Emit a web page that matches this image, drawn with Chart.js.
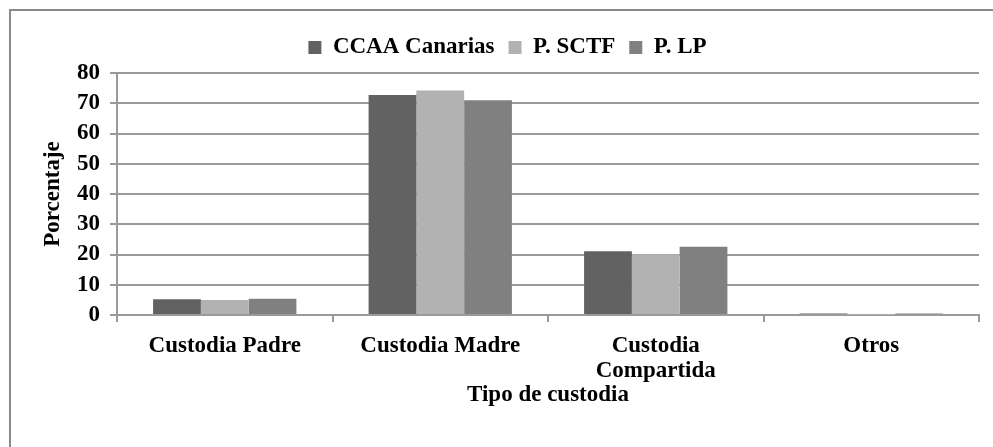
<!DOCTYPE html>
<html>
<head>
<meta charset="utf-8">
<script src="https://cdn.jsdelivr.net/npm/chart.js@4/dist/chart.umd.min.js"></script>
<style>
  html, body { margin: 0; padding: 0; background: #fff; }
  .wrap { position: relative; width: 993px; height: 447px; overflow: hidden; }
  .frame { position: absolute; left: 9px; top: 9px; width: 1100px; height: 1000px;
           border-left: 2px solid #8a8a8a; border-top: 2px solid #8a8a8a; }
  canvas { position: absolute; left: 0; top: 0; }
</style>
</head>
<body>
<div class="wrap">
  <div class="frame"></div>
  <canvas id="myChart" width="993" height="447"></canvas>
</div>
<script>
const categories = ["Custodia Padre", "Custodia Madre", ["Custodia", "Compartida"], "Otros"];
const seriesNames = ["CCAA Canarias", "P. SCTF", "P. LP"];
const canarias = [5.2, 72.7, 21.1, 0.5];
const sctf = [5.0, 74.2, 20.1, 0.1];
const lp = [5.4, 71.0, 22.6, 0.5];
const colors = ["#626262", "#b2b2b2", "#808080"];
const yTicks = [0, 10, 20, 30, 40, 50, 60, 70, 80];

const font = { family: "'Liberation Serif', 'Times New Roman', serif", size: 23, weight: "bold", lineHeight: 1.1 };
const gridColor = "#9a9a9a";

// extra room under the legend so the plot starts where it does in the original
const legendGap = {
  id: "legendGap",
  beforeInit(chart) {
    const fit = chart.legend.fit;
    chart.legend.fit = function () {
      fit.bind(chart.legend)();
      this.height += 4;
    };
  }
};

const ctx = document.getElementById("myChart").getContext("2d");
new Chart(ctx, {
  type: "bar",
  data: {
    labels: categories,
    datasets: [canarias, sctf, lp].map((vals, i) => ({
      label: seriesNames[i],
      data: vals,
      backgroundColor: colors[i],
      borderWidth: 0,
      barPercentage: 1,
      categoryPercentage: 0.665
    }))
  },
  options: {
    responsive: false,
    animation: false,
    layout: { padding: { left: 36, right: 14, top: 22, bottom: 30 } },
    plugins: {
      legend: {
        position: "top",
        labels: { font: font, color: "#000", boxWidth: 13, boxHeight: 13, padding: 14 }
      },
      tooltip: { enabled: false }
    },
    scales: {
      x: {
        grid: { offset: true, drawOnChartArea: false, color: gridColor, lineWidth: 2, tickLength: 7 },
        border: { color: gridColor, width: 2 },
        ticks: { font: font, color: "#000", padding: 11, maxRotation: 0 },
        title: { display: true, text: "Tipo de custodia", font: font, color: "#000", padding: { top: 4, bottom: 9 } },
        afterFit: (s) => { s.height = 102; }
      },
      y: {
        min: 0,
        max: 80,
        afterBuildTicks: (s) => { s.ticks = yTicks.map(v => ({ value: v })); },
        grid: { color: gridColor, lineWidth: 2, tickLength: 7 },
        border: { color: gridColor, width: 2 },
        ticks: { font: font, color: "#000", padding: 10 },
        title: { display: true, text: "Porcentaje", font: font, color: "#000", padding: 4 },
        afterFit: (s) => { s.width = 81; }
      }
    }
  },
  plugins: [legendGap]
});
</script>
</body>
</html>
